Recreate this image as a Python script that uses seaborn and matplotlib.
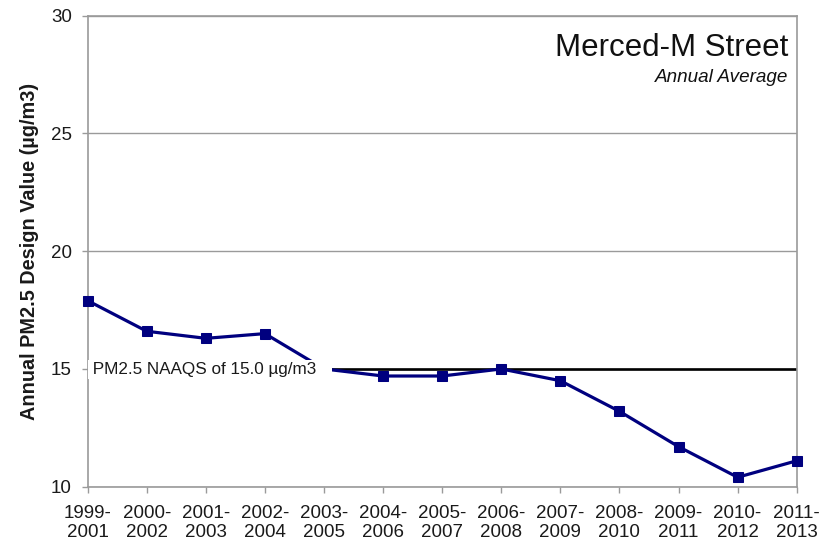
import numpy as np
import pandas as pd
import seaborn as sns
import matplotlib.pyplot as plt

periods = ["1999-\n2001", "2000-\n2002", "2001-\n2003", "2002-\n2004", "2003-\n2005",
           "2004-\n2006", "2005-\n2007", "2006-\n2008", "2007-\n2009", "2008-\n2010",
           "2009-\n2011", "2010-\n2012", "2011-\n2013"]
design_values = [17.9, 16.6, 16.3, 16.5, 15.0, 14.7, 14.7, 15.0, 14.5, 13.2, 11.7, 10.4, 11.1]
naaqs = 15.0
y_ticks = [10, 15, 20, 25, 30]

sns.set_style("white")
plt.rcParams['font.family'] = ['Liberation Sans', 'DejaVu Sans']

df = pd.DataFrame({'period': periods, 'value': design_values})
df['pos'] = np.arange(len(df))

grey = '#9a9a9a'
navy = '#00007f'

fig, ax = plt.subplots(figsize=(8.31, 5.43), dpi=100)
fig.subplots_adjust(left=0.1055, right=0.9587, bottom=0.1037, top=0.9711)

ax.axhline(naaqs, color='black', lw=1.9, zorder=2)
sns.lineplot(data=df, x='pos', y='value', color=navy, lw=2.3, marker='s',
             markersize=7.5, markeredgecolor=navy, clip_on=False, zorder=3, ax=ax)

# white label box hides the series where it crosses the standard line
ax.annotate(" PM2.5 NAAQS of 15.0 µg/m3   ", xy=(0, naaqs), xytext=(0, -0.5),
            textcoords='offset points', ha='left', va='center', fontsize=12.3,
            color='#1a1a1a', zorder=4, annotation_clip=False, clip_on=True,
            bbox=dict(boxstyle='square,pad=0.1', facecolor='white', edgecolor='none'))

ax.set_xlim(0, len(periods) - 1)
ax.set_ylim(10, 30)
ax.set_xticks(df['pos'])
ax.set_xticklabels(periods, linespacing=1.2)
ax.set_yticks(y_ticks)
ax.yaxis.grid(True, color=grey, lw=1)
ax.xaxis.grid(False)
for s in ax.spines.values():
    s.set_color(grey)
    s.set_linewidth(1.2)

ax.tick_params(axis='both', which='major', length=4.5, width=1, color=grey,
               labelsize=13.5, labelcolor='#1a1a1a', direction='out')
ax.tick_params(axis='y', pad=6.8)
ax.tick_params(axis='x', pad=8.5)
ax.tick_params(left=True, bottom=True)

ax.set_xlabel('')
ax.set_ylabel('Annual PM2.5 Design Value (µg/m3)', fontsize=14.3, fontweight='bold',
              color='#1a1a1a')
ax.yaxis.set_label_coords(-0.069, 0.5)

ax.text(0.9877, 0.914, 'Merced-M Street', transform=ax.transAxes, ha='right',
        va='baseline', fontsize=22.5, color='#111111')
ax.text(0.9877, 0.859, 'Annual Average', transform=ax.transAxes, ha='right',
        va='baseline', fontsize=13.6, style='italic', color='#111111')

plt.savefig('out.png', dpi=100)
